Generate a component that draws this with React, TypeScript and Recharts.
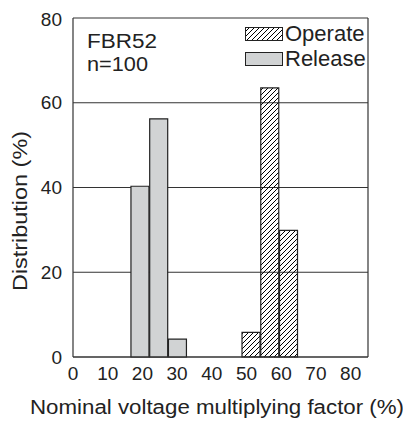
import { BarChart, Bar, XAxis, YAxis, CartesianGrid, Legend, ReferenceLine, Label } from 'recharts'

// bin centres (%) and distributions (%)
const binCenters = [19.4, 24.8, 30.2, 51.4, 56.8, 62.2]
const releaseValues = [40.3, 56.2, 4.2, null, null, null]
const operateValues = [null, null, null, 5.8, 63.5, 29.9]

const xTicks = [0, 10, 20, 30, 40, 50, 60, 70, 80]
const yTicks = [0, 20, 40, 60, 80]

const FONT = 'Liberation Sans, Arial, Helvetica, sans-serif'
const INK = '#222'
const LINE = '#333'
const GRAY = '#d1d3d4'

const data = binCenters.map((x, i) => ({
    x,
    release: releaseValues[i],
    operate: operateValues[i],
}))

const legendItems = [
    { name: 'Operate', hatched: true },
    { name: 'Release', hatched: false },
]

const LegendBox = () => (
    <div style={{ fontFamily: FONT, fontSize: 22, color: INK, lineHeight: '25px' }}>
        {legendItems.map((item) => (
            <div key={item.name} style={{ display: 'flex', alignItems: 'center', height: 25 }}>
                <svg width={38} height={14} style={{ marginRight: 2 }}>
                    <defs>
                        <pattern id="lg-hatch" patternUnits="userSpaceOnUse" width={5} height={5}>
                            <path d="M-1,1 l2,-2 M0,5 l5,-5 M4,6 l2,-2" stroke="#000" strokeWidth={1} />
                        </pattern>
                    </defs>
                    <rect
                        x={0.5}
                        y={0.5}
                        width={37}
                        height={13}
                        fill={item.hatched ? 'url(#lg-hatch)' : GRAY}
                        stroke={INK}
                        strokeWidth={1}
                    />
                </svg>
                <span>{item.name}</span>
            </div>
        ))}
    </div>
)

const App = () => {
    return (
        <BarChart
            width={403}
            height={414}
            data={data}
            margin={{ top: 10, right: 43, left: 0, bottom: 0 }}
            style={{ fontFamily: FONT, overflow: 'visible' }}
        >
            <defs>
                <pattern id="hatch" patternUnits="userSpaceOnUse" width={5} height={5}>
                    <path d="M-1,1 l2,-2 M0,5 l5,-5 M4,6 l2,-2" stroke="#000" strokeWidth={1} />
                </pattern>
            </defs>
            <CartesianGrid vertical={false} stroke={LINE} strokeWidth={1.2} />
            <XAxis
                dataKey="x"
                type="number"
                domain={[0, 85]}
                ticks={xTicks}
                height={65}
                tickLine={false}
                tickSize={6}
                tickMargin={4}
                axisLine={{ stroke: LINE, strokeWidth: 1.2 }}
                tick={{ fill: INK, fontSize: 19, fontFamily: FONT }}
                interval={0}
            >
                <Label
                    content={() => (
                        <text
                            x={22}
                            y={406}
                            textAnchor="start"
                            fill={INK}
                            fontSize={20}
                            fontFamily={FONT}
                            textLength={374}
                            lengthAdjust="spacingAndGlyphs"
                        >
                            Nominal voltage multiplying factor (%)
                        </text>
                    )}
                />
            </XAxis>
            <YAxis
                type="number"
                domain={[0, 80]}
                ticks={yTicks}
                width={65}
                tickLine={false}
                tickSize={6}
                tickMargin={5}
                axisLine={{ stroke: LINE, strokeWidth: 1.2 }}
                tick={{ fill: INK, fontSize: 19, fontFamily: FONT }}
            >
                <Label
                    content={() => (
                        <text
                            x={19}
                            y={203}
                            transform="rotate(-90, 19, 203)"
                            textAnchor="middle"
                            fill={INK}
                            fontSize={20}
                            fontFamily={FONT}
                            textLength={160}
                            lengthAdjust="spacingAndGlyphs"
                        >
                            Distribution (%)
                        </text>
                    )}
                />
            </YAxis>
            <ReferenceLine x={85} stroke={LINE} strokeWidth={1.2} />
            <Bar
                dataKey="release"
                name="Release"
                stackId="a"
                barSize={18}
                fill={GRAY}
                stroke={INK}
                strokeWidth={1.2}
                isAnimationActive={false}
            />
            <Bar
                dataKey="operate"
                name="Operate"
                stackId="a"
                barSize={18}
                fill="url(#hatch)"
                stroke={INK}
                strokeWidth={1.2}
                isAnimationActive={false}
            />
            <Legend
                layout="vertical"
                align="center"
                verticalAlign="middle"
                content={() => <LegendBox />}
                wrapperStyle={{ top: 13, left: 237, width: 130, height: 50 }}
            />
            <text x={79} y={40} fill={INK} fontSize={20} fontFamily={FONT} textLength={70} lengthAdjust="spacingAndGlyphs">
                FBR52
            </text>
            <text x={79} y={63} fill={INK} fontSize={20} fontFamily={FONT} textLength={61} lengthAdjust="spacingAndGlyphs">
                n=100
            </text>
        </BarChart>
    )
}

export default App
